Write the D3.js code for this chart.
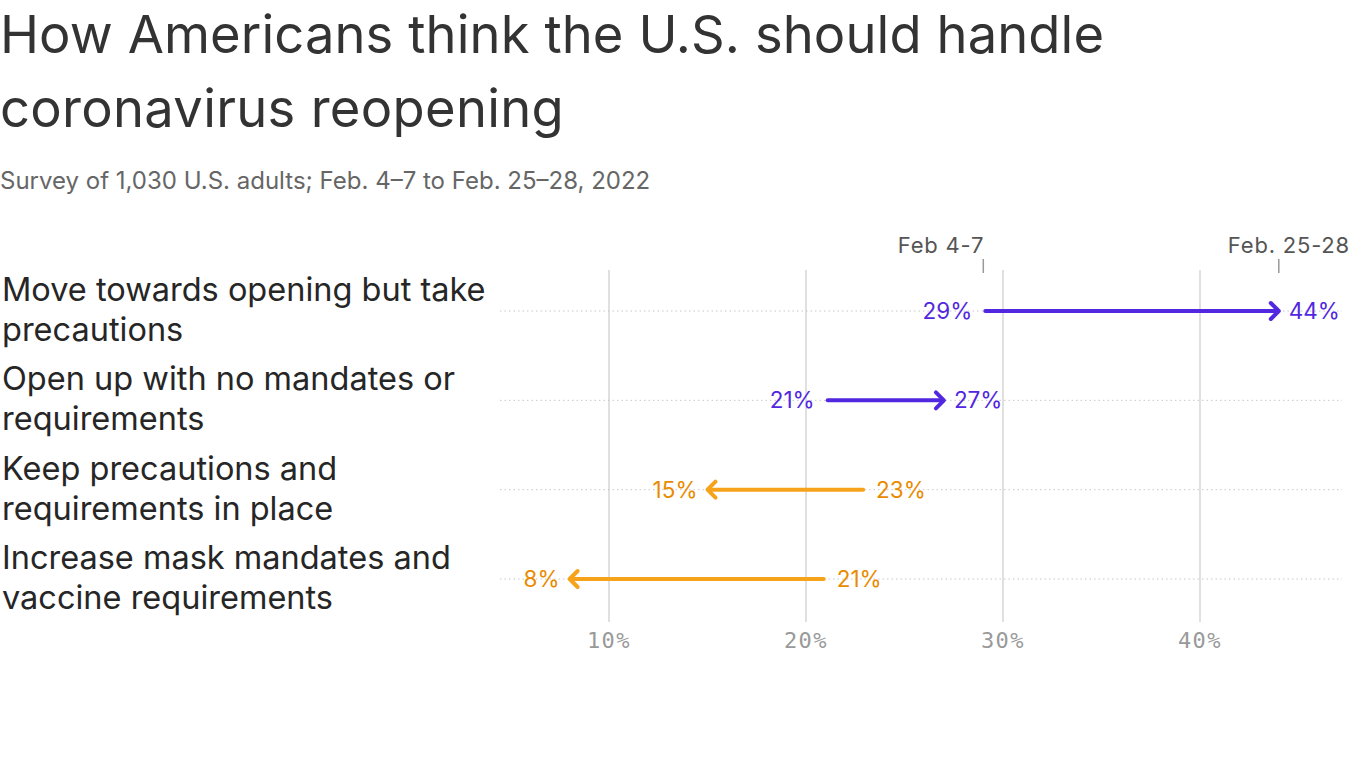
<!DOCTYPE html>
<html><head><meta charset="utf-8">
<script src="https://cdn.jsdelivr.net/npm/d3@7"></script>
<style>
body{margin:0;background:#fff;}
svg{display:block;}
</style></head>
<body>
<script>
const categories = [
  ["Move towards opening but take","precautions"],
  ["Open up with no mandates or","requirements"],
  ["Keep precautions and","requirements in place"],
  ["Increase mask mandates and","vaccine requirements"]
];
const feb4to7 = [29, 21, 23, 21];
const feb25to28 = [44, 27, 15, 8];
const tickValues = [10, 20, 30, 40];
const periodLabels = ["Feb 4-7", "Feb. 25-28"];
const periodRefRow = 0;

const W = 1366, H = 768;
const svg = d3.select("body").append("svg").attr("width", W).attr("height", H);
const font = "Inter, 'Noto Sans', sans-serif";

svg.append("text").attr("x", 0).attr("y", 53).attr("font-family", font).attr("font-size", 52.5)
  .attr("fill", "#333").attr("letter-spacing", 0.1).text("How Americans think the U.S. should handle");
svg.append("text").attr("x", 0).attr("y", 127).attr("font-family", font).attr("font-size", 52.5)
  .attr("fill", "#333").attr("letter-spacing", 0.3).text("coronavirus reopening");
svg.append("text").attr("x", 0).attr("y", 189).attr("font-family", font).attr("font-size", 24)
  .attr("fill", "#666").attr("letter-spacing", 0).text("Survey of 1,030 U.S. adults; Feb. 4\u20137 to Feb. 25\u201328, 2022");

const x = d3.scaleLinear().domain([0, 10]).range([412, 609]);
const rowsY = d3.scalePoint().domain(d3.range(categories.length)).range([311, 579]);

// gridlines
svg.selectAll("line.grid").data(tickValues).join("line")
  .attr("x1", d => x(d)).attr("x2", d => x(d)).attr("y1", 270).attr("y2", 622)
  .attr("stroke", "#e0e0e0").attr("stroke-width", 2);

// axis labels
svg.selectAll("text.tick").data(tickValues).join("text")
  .attr("x", d => x(d)).attr("y", 648).attr("text-anchor", "middle")
  .attr("font-family", "'DejaVu Sans Mono', monospace").attr("font-size", 22)
  .attr("letter-spacing", 1.5).attr("fill", "#999")
  .text(d => d + "%");

// dotted row lines
svg.selectAll("line.row").data(categories).join("line")
  .attr("x1", 500).attr("x2", 1342).attr("y1", (d,i) => rowsY(i)).attr("y2", (d,i) => rowsY(i))
  .attr("stroke", "#c8c8c8").attr("stroke-width", 1).attr("stroke-dasharray", "1.5,3");

// category labels
categories.forEach((lines, i) => {
  const t = svg.append("text").attr("font-family", font).attr("font-size", 32.5).attr("fill", "#262626");
  lines.forEach((l, j) => t.append("tspan").attr("x", 2).attr("y", rowsY(i) - 10 + j * 40).text(l));
});

// period labels at top
const periodVals = [feb4to7[periodRefRow], feb25to28[periodRefRow]];
periodLabels.forEach((lab, k) => {
  const px = x(periodVals[k]);
  svg.append("line").attr("x1", px).attr("x2", px).attr("y1", 259).attr("y2", 273)
    .attr("stroke", "#999").attr("stroke-width", 1.5);
  svg.append("text").attr("x", k === 0 ? px + 1 : 1350).attr("y", 253).attr("text-anchor", "end")
    .attr("font-family", font).attr("font-size", 22).attr("fill", "#555").attr("letter-spacing", 0.8)
    .text(lab);
});

// arrows
const purple = "#5227e0", orange = "#f7a21b", orangeText = "#e98b00";
categories.forEach((c, i) => {
  const a = feb4to7[i], b = feb25to28[i];
  const y = rowsY(i);
  const up = b > a;
  const col = up ? purple : orange;
  const tcol = up ? purple : orangeText;
  const dir = up ? 1 : -1;
  const xa = x(a), xb = x(b);
  svg.append("line").attr("x1", xa + dir * 2).attr("x2", xb - dir * 2).attr("y1", y).attr("y2", y)
    .attr("stroke", col).attr("stroke-width", 4).attr("stroke-linecap", "round");
  svg.append("path")
    .attr("d", `M${xb - dir * 8},${y - 8} L${xb},${y} L${xb - dir * 8},${y + 8}`)
    .attr("fill", "none").attr("stroke", col).attr("stroke-width", 4)
    .attr("stroke-linecap", "round").attr("stroke-linejoin", "round");
  svg.append("text").attr("x", xa - dir * 11).attr("y", y + 8)
    .attr("text-anchor", up ? "end" : "start")
    .attr("font-family", font).attr("font-size", 22.5).attr("fill", tcol).text(a + "%");
  svg.append("text").attr("x", xb + dir * 10).attr("y", y + 8)
    .attr("text-anchor", up ? "start" : "end")
    .attr("font-family", font).attr("font-size", 22.5).attr("fill", tcol).text(b + "%");
});
</script>
</body></html>
